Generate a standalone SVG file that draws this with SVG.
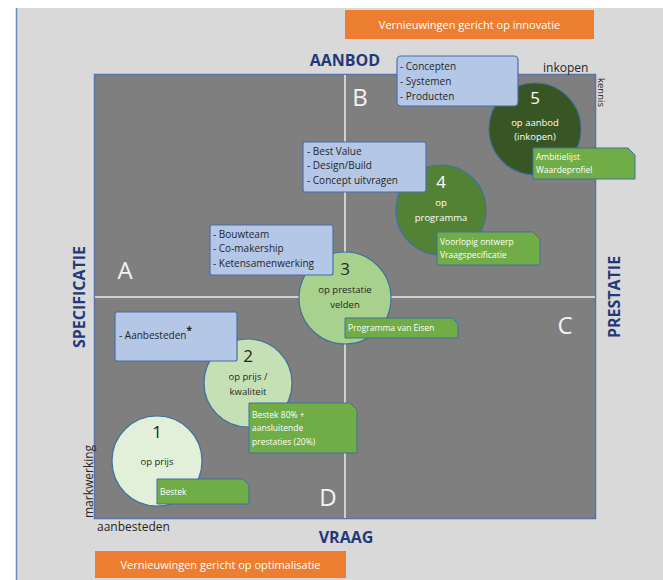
<svg xmlns="http://www.w3.org/2000/svg" width="663" height="580" viewBox="0 0 663 580">
<defs>
<style>
.t{font-family:"Open Sans","Liberation Sans",sans-serif}
.axis{font-family:"Open Sans","Liberation Sans",sans-serif;font-weight:bold;fill:#1f3a7a;font-size:16px}
.quad{font-family:"Open Sans","Liberation Sans",sans-serif;fill:#f2f2f2;font-size:24px}
.orange{fill:#ed7d31}
.otext{font-family:"Open Sans","Liberation Sans",sans-serif;fill:#ffffff;font-size:11px}
.blue{fill:#b4c7e7;stroke:#4a6fa8;stroke-width:1.2}
.btext{font-family:"Open Sans","Liberation Sans",sans-serif;fill:#262626;font-size:10px}
.gbox{fill:#70ad47;stroke:#41719c;stroke-width:1}
.gtext{font-family:"Open Sans","Liberation Sans",sans-serif;fill:#ffffff;font-size:8.5px}
.circ{stroke:#41719c;stroke-width:1.2}
.num{font-family:"Open Sans","Liberation Sans",sans-serif;font-size:17px;text-anchor:middle}
.ctext{font-family:"Open Sans","Liberation Sans",sans-serif;font-size:9.5px;text-anchor:middle}
.side{font-family:"Open Sans","Liberation Sans",sans-serif;fill:#262626;font-size:12px}
</style>
</defs>
<rect x="0" y="0" width="663" height="580" fill="#ffffff"/>
<rect x="16" y="8" width="647" height="572" fill="#d9d9d9"/>
<line x1="16.5" y1="8" x2="16.5" y2="580" stroke="#6f8cc0" stroke-width="1.5"/>

<g id="grid">
<rect x="94.5" y="74.5" width="501" height="444" fill="#7f7f7f" stroke="#5a74a8" stroke-width="1.5"/>
<line x1="345" y1="75" x2="345" y2="518" stroke="#d0d0d0" stroke-width="2"/>
<line x1="95" y1="297" x2="595" y2="297" stroke="#d0d0d0" stroke-width="2"/>
</g>

<g id="banner-top">
<rect class="orange" x="345" y="10" width="249" height="29"/>
<text class="otext" x="469.5" y="28.5" text-anchor="middle">Vernieuwingen gericht op innovatie</text>
</g>
<g id="banner-bottom">
<rect class="orange" x="95" y="551" width="251" height="27"/>
<text class="otext" x="220.5" y="568.5" text-anchor="middle">Vernieuwingen gericht op optimalisatie</text>
</g>

<g id="axis-labels">
<text class="axis" x="345" y="66" text-anchor="middle">AANBOD</text>
<text class="axis" x="346" y="543" text-anchor="middle">VRAAG</text>
<text class="axis" transform="translate(85,297) rotate(-90)" text-anchor="middle">SPECIFICATIE</text>
<text class="axis" transform="translate(620,297) rotate(-90)" text-anchor="middle">PRESTATIE</text>
<text class="side" x="543" y="72">inkopen</text>
<text class="side" transform="translate(598,78) rotate(90)" style="font-size:9.5px">kennis</text>
<text class="side" transform="translate(93,518) rotate(-90)">markwerking</text>
<text class="side" x="97" y="531">aanbesteden</text>
</g>

<g id="quadrants">
<text class="quad" x="125" y="279" text-anchor="middle">A</text>
<text class="quad" x="360" y="106" text-anchor="middle">B</text>
<text class="quad" x="565" y="334" text-anchor="middle">C</text>
<text class="quad" x="328" y="506" text-anchor="middle">D</text>
</g>

<g id="node5">
<circle class="circ" cx="535" cy="129" r="46" fill="#375623"/>
<text class="num" x="535" y="104" fill="#ffffff">5</text>
<text class="ctext" x="535" y="126" fill="#ffffff">op aanbod</text>
<text class="ctext" x="535" y="140" fill="#ffffff">(inkopen)</text>
</g>
<g id="node4">
<circle class="circ" cx="441" cy="210" r="45" fill="#548235"/>
<text class="num" x="441" y="188" fill="#ffffff">4</text>
<text class="ctext" x="441" y="206" fill="#ffffff">op</text>
<text class="ctext" x="441" y="221" fill="#ffffff">programma</text>
</g>
<g id="node3">
<circle class="circ" cx="345" cy="298" r="46" fill="#a9d18e"/>
<text class="num" x="345" y="275" fill="#262626">3</text>
<text class="ctext" x="345" y="293" fill="#262626">op prestatie</text>
<text class="ctext" x="345" y="308" fill="#262626">velden</text>
</g>
<g id="node2">
<circle class="circ" cx="248" cy="383" r="44" fill="#c5e0b4"/>
<text class="num" x="248" y="362" fill="#262626">2</text>
<text class="ctext" x="248" y="380" fill="#262626">op prijs /</text>
<text class="ctext" x="248" y="395" fill="#262626">kwaliteit</text>
</g>
<g id="node1">
<circle class="circ" cx="157" cy="461" r="45" fill="#e2f0d9"/>
<text class="num" x="157" y="438" fill="#262626">1</text>
<text class="ctext" x="157" y="465" fill="#262626">op prijs</text>
</g>

<g id="box-concepten">
<rect class="blue" x="397" y="56" width="121" height="50" rx="4"/>
<text class="btext" x="400" y="70">- Concepten</text>
<text class="btext" x="400" y="85">- Systemen</text>
<text class="btext" x="400" y="100">- Producten</text>
</g>
<g id="box-bestvalue">
<rect class="blue" x="303" y="142" width="123" height="50" rx="2"/>
<text class="btext" x="307" y="155">- Best Value</text>
<text class="btext" x="307" y="169">- Design/Build</text>
<text class="btext" x="307" y="184">- Concept uitvragen</text>
</g>
<g id="box-bouwteam">
<rect class="blue" x="210" y="225" width="123" height="50" rx="2"/>
<text class="btext" x="213" y="238">- Bouwteam</text>
<text class="btext" x="213" y="252">- Co-makership</text>
<text class="btext" x="213" y="267">- Ketensamenwerking</text>
</g>
<g id="box-aanbesteden">
<rect class="blue" x="115" y="312" width="122" height="49" rx="2"/>
<text class="btext" x="119" y="339">- Aanbesteden<tspan dy="-5" style="font-weight:bold">*</tspan></text>
</g>

<g id="tag-ambitie">
<path class="gbox" d="M533 148 H628 L635 155 V179 H533 Z"/>
<text class="gtext" x="536" y="160">Ambitielijst</text>
<text class="gtext" x="536" y="173">Waardeprofiel</text>
</g>
<g id="tag-voorlopig">
<path class="gbox" d="M437 232 H533 L540 239 V265 H437 Z"/>
<text class="gtext" x="440" y="245">Voorlopig ontwerp</text>
<text class="gtext" x="440" y="258">Vraagspecificatie</text>
</g>
<g id="tag-pve">
<path class="gbox" d="M345 318 H452 L458 324 V338 H345 Z"/>
<text class="gtext" x="348" y="331">Programma van Eisen</text>
</g>
<g id="tag-bestek80">
<path class="gbox" d="M249 403 H350 L357 410 V453 H249 Z"/>
<text class="gtext" x="252" y="418">Bestek 80% +</text>
<text class="gtext" x="252" y="431">aansluitende</text>
<text class="gtext" x="252" y="445">prestaties (20%)</text>
</g>
<g id="tag-bestek">
<path class="gbox" d="M157 479 H243 L249 485 V504 H157 Z"/>
<text class="gtext" x="160" y="495">Bestek</text>
</g>
</svg>
